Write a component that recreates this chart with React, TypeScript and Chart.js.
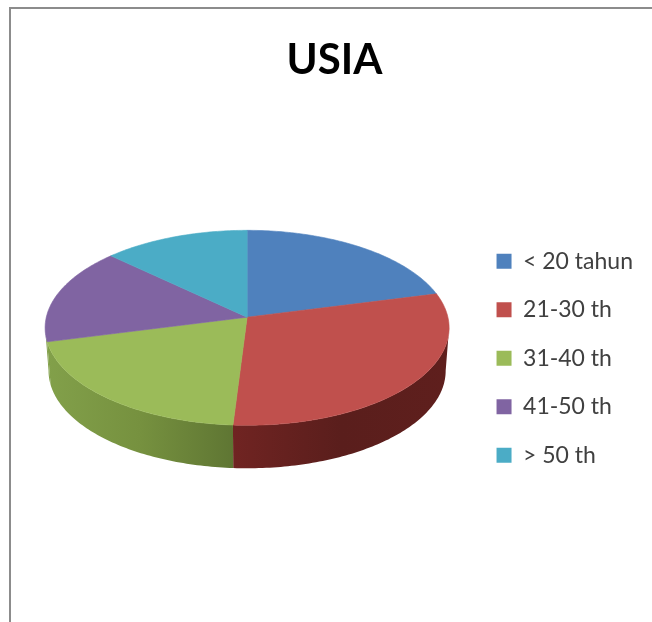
import React, { useEffect, useRef } from "react";
import { Chart, registerables } from "chart.js";

Chart.register(...registerables);

const categories = ["< 20 tahun", "21-30 th", "31-40 th", "41-50 th", "> 50 th"];
const shares = [21, 30, 20, 16, 13];
const faceColors = ["#4F81BD", "#C0504D", "#9BBB59", "#8064A2", "#4BACC6"];
// Wall shades for each slice, listed from its left end to its right end.
const sideColors = [
  ["#2f4f78", "#2f4f78"],
  ["#702422", "#5a1e1c", "#5f1f1d"],
  ["#82a04a", "#76913f", "#5f7633"],
  ["#82a04a", "#82a04a"],
  ["#2f7082", "#2f7082"],
];

// Perspective tilt of the disc, expressed relative to the arc radius.
const NEAR_RADIUS = 0.535;
const FAR_RADIUS = 0.43;
const DEPTH = 0.213;
const LIFT = 0.203;
const SHIFT = -0.007;
const BASE_SCALE = 0.983;
const K = (NEAR_RADIUS - FAR_RADIUS) / (NEAR_RADIUS + FAR_RADIUS);
const A = NEAR_RADIUS * (1 - K);
const B = Math.sqrt(1 - K * K);

// Project an angle (clockwise from twelve o'clock) onto the tilted rim.
function rim(arc: any, theta: number, drop = 0) {
  const r = arc.outerRadius;
  const u = Math.sin(theta);
  const v = -Math.cos(theta);
  const w = 1 - K * v;
  const narrow = drop ? BASE_SCALE : 1;
  return {
    x: arc.x + r * SHIFT + (r * B * u * narrow) / w,
    y: arc.y - r * LIFT + (r * A * v) / w + drop * r,
  };
}

function samples(from: number, to: number) {
  const steps = Math.max(2, Math.ceil((to - from) * 60));
  return Array.from({ length: steps + 1 }, (_, i) => from + ((to - from) * i) / steps);
}

const tiltedPie = {
  id: "tiltedPie",
  beforeDatasetsDraw(chart: any) {
    const { ctx } = chart;
    const arcs = chart.getDatasetMeta(0).data;
    ctx.save();

    // Outer wall: only the part of the rim that faces the viewer.
    const nearFrom = Math.PI - Math.acos(K);
    const nearTo = Math.PI + Math.acos(K);
    arcs.forEach((arc: any, index: number) => {
      const start = Math.max(arc.startAngle + Math.PI / 2, nearFrom);
      const end = Math.min(arc.endAngle + Math.PI / 2, nearTo);
      if (end <= start) return;
      const thetas = samples(start, end);
      const top = thetas.map((t) => rim(arc, t));
      const bottom = thetas.map((t) => rim(arc, t, DEPTH)).reverse();
      const xs = top.map((p) => p.x);
      const gradient = ctx.createLinearGradient(Math.min(...xs), 0, Math.max(...xs), 0);
      const stops = sideColors[index];
      stops.forEach((c, i) => gradient.addColorStop(i / (stops.length - 1), c));
      ctx.beginPath();
      [...top, ...bottom].forEach((p, i) => (i ? ctx.lineTo(p.x, p.y) : ctx.moveTo(p.x, p.y)));
      ctx.closePath();
      ctx.fillStyle = gradient;
      ctx.fill();
    });

    // Top face of each slice, fanned out from the projected centre.
    arcs.forEach((arc: any) => {
      const thetas = samples(arc.startAngle + Math.PI / 2, arc.endAngle + Math.PI / 2);
      ctx.beginPath();
      ctx.moveTo(arc.x + arc.outerRadius * SHIFT, arc.y - arc.outerRadius * LIFT);
      thetas.map((t) => rim(arc, t)).forEach((p) => ctx.lineTo(p.x, p.y));
      ctx.closePath();
      ctx.fillStyle = arc.options.backgroundColor;
      ctx.strokeStyle = arc.options.backgroundColor;
      ctx.lineWidth = 0.6;
      ctx.fill();
      ctx.stroke();
    });

    ctx.restore();
    return false;
  },
};

export default function App() {
  const ref = useRef<HTMLCanvasElement>(null);

  useEffect(() => {
    const chart = new Chart(ref.current!, {
      type: "pie",
      data: {
        labels: categories,
        datasets: [{ data: shares, backgroundColor: faceColors, borderWidth: 0 }],
      },
      plugins: [tiltedPie],
      options: {
        animation: false,
        responsive: false,
        radius: 202,
        layout: { padding: { left: 26, right: 9, top: 0, bottom: 0 } },
        plugins: {
          title: {
            display: true,
            text: "USIA",
            color: "#000000",
            font: { family: "Lato", size: 42, weight: "bold" },
            padding: { top: 35, bottom: 9 },
          },
          legend: {
            position: "right",
            fullSize: false,
            labels: {
              boxWidth: 15,
              boxHeight: 15,
              padding: 25.5,
              color: "#404040",
              font: { family: "Lato", size: 23 },
            },
          },
          tooltip: { enabled: false },
        },
      },
    } as any);
    return () => chart.destroy();
  }, []);

  return (
    <div style={{ position: "absolute", left: 0, top: 0, width: 652, height: 622, background: "#fff" }}>
      <canvas ref={ref} width={652} height={622} style={{ display: "block" }} />
      <div
        style={{
          position: "absolute",
          left: 9,
          top: 7,
          right: 0,
          bottom: 0,
          borderTop: "2px solid #8c8c8c",
          borderLeft: "2px solid #8c8c8c",
          pointerEvents: "none",
        }}
      />
    </div>
  );
}
